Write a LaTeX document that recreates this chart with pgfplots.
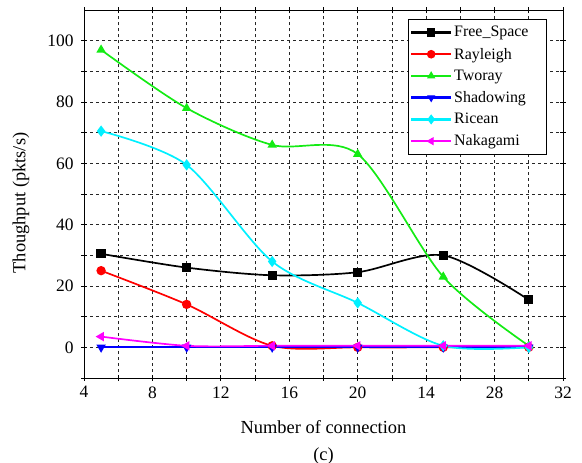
\documentclass[border=0pt]{standalone}
\usepackage{pgfplots}
\pgfplotsset{compat=1.18}
\usepackage{fontspec}
\setmainfont{Liberation Serif}
\definecolor{mygreen}{RGB}{20,235,20}
\definecolor{mycyan}{RGB}{0,240,255}
\definecolor{mymag}{RGB}{255,0,255}
\definecolor{myred}{RGB}{255,0,0}
\definecolor{myblue}{RGB}{0,0,255}
\begin{document}
\begin{tikzpicture}
\useasboundingbox (-84bp,-85bp) rectangle (498bp,378bp);
\begin{axis}[
  at={(0,0)}, anchor=south west,
  scale only axis,
  width=479bp, height=368bp,
  xmin=4, xmax=32, ymin=-10, ymax=110,
  xtick={4,8,12,16,20,24,28,32},
  xticklabels={4,8,12,16,20,14,28,32},
  minor xtick={6,10,14,18,22,26,30},
  ytick={0,20,40,60,80,100},
  minor ytick={-10,10,30,50,70,90},
  grid=both,
  major grid style={black!85, line width=0.8pt, dash pattern=on 3pt off 3pt},
  minor grid style={black!85, line width=0.8pt, dash pattern=on 3pt off 3pt},
  axis line style={black, line width=0.9pt},
  tick align=center,
  major tick length=6pt, minor tick length=6pt,
  tick style={black, line width=0.8pt},
  /pgf/number format/assume math mode=true,
  tick label style={font=\fontsize{17.5}{20}\selectfont},
  yticklabel style={xshift=-4pt},
  xticklabel style={yshift=-2pt},
  label style={font=\fontsize{18.5}{21}\selectfont},
  xlabel={Number of connection\\[6pt](c)},
  xlabel style={align=center, at={(axis description cs:0.5,0)}, anchor=north, yshift=-39bp},
  ylabel={Thoughput (pkts/s)},
  ylabel style={at={(axis description cs:-0.1315,0.4755)}, anchor=center},
  legend style={at={(0.9666,0.9755)}, anchor=north east, draw=black, line width=0.9pt,
    font=\fontsize{16}{19}\selectfont, row sep=5.5pt, inner xsep=2pt, inner ysep=5pt, fill=white},
  legend cell align=left,
  legend image code/.code={\draw[#1, line width=2.4pt, mark=none] (0cm,0cm) -- (1.4cm,0cm); \draw[#1, line width=1pt] plot coordinates {(0.7cm,0cm)};},
  every axis plot/.append style={line width=1.7pt, smooth, mark size=3.8pt},
]
\addplot[black, mark=square*] coordinates {(5,30.5) (10,26) (15,23.5) (20,24.5) (25,30) (30,15.5)};
\addlegendentry{Free\_Space\kern14bp}
\addplot[myred, mark=*] coordinates {(5,25) (10,14) (15,0.5) (20,0) (25,0) (30,0)};
\addlegendentry{Rayleigh}
\addplot[mygreen, mark=triangle*] coordinates {(5,97) (10,78) (15,66) (20,63) (25,23) (30,0.5)};
\addlegendentry{Tworay}
\addplot[myblue, mark=triangle*, mark options={rotate=180}] coordinates {(5,0) (10,0) (15,0) (20,0) (25,0) (30,0)};
\addlegendentry{Shadowing}
\addplot[mycyan, mark=diamond*, mark size=4.3pt] coordinates {(5,70.5) (10,59.5) (15,28) (20,14.5) (25,0.5) (30,0)};
\addlegendentry{Ricean}
\addplot[mymag, mark=triangle*, mark options={rotate=90}] coordinates {(5,3.5) (10,0.5) (15,0.5) (20,0.5) (25,0.5) (30,0.5)};
\addlegendentry{Nakagami}
\end{axis}
\end{tikzpicture}
\end{document}
